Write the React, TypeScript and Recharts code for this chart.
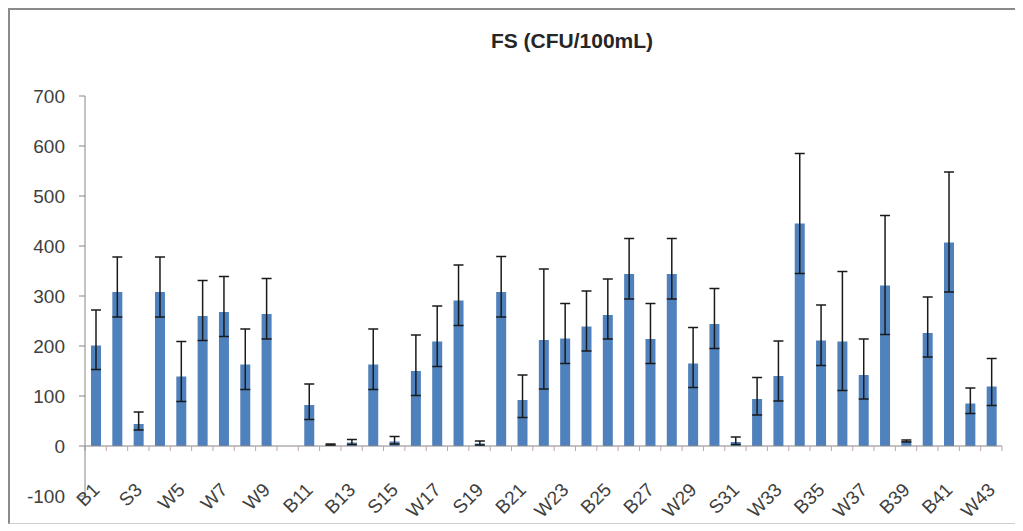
import { BarChart, Bar, XAxis, YAxis, ErrorBar, ReferenceLine } from "recharts"

// sampling sites (only the odd ones are labelled on the axis)
const sites = [
  "B1", "S2", "S3", "B4", "W5", "S6", "W7", "B8", "W9", "S10",
  "B11", "S12", "B13", "W14", "S15", "B16", "W17", "B18", "S19", "W20",
  "B21", "S22", "W23", "S24", "B25", "W26", "B27", "S28", "W29", "B30",
  "S31", "B32", "W33", "S34", "B35", "S36", "W37", "W38", "B39", "S40",
  "B41", "S42", "W43",
]

// mean FS count per site (CFU/100mL)
const fsMean = [
  201, 308, 44, 308, 139, 260, 268, 163, 264, 0,
  82, 3, 7, 163, 9, 150, 209, 291, 5, 308,
  92, 212, 215, 239, 262, 344, 214, 344, 165, 244,
  8, 94, 140, 445, 211, 209, 142, 321, 10, 226,
  407, 85, 119,
]

// upper and lower error bar lengths
const errPlus = [
  71, 70, 24, 70, 70, 71, 71, 71, 71, 0,
  42, 1, 6, 71, 10, 72, 71, 71, 5, 71,
  50, 142, 70, 71, 72, 71, 71, 71, 72, 71,
  10, 43, 70, 140, 71, 140, 72, 140, 2, 72,
  141, 31, 56,
]
const errMinus = [
  48, 50, 12, 50, 50, 49, 49, 50, 50, 0,
  29, 1, 4, 50, 5, 49, 50, 50, 3, 50,
  35, 98, 50, 49, 48, 50, 49, 50, 48, 49,
  5, 32, 50, 100, 50, 98, 48, 98, 2, 48,
  99, 20, 38,
]

const yTicks = [-100, 0, 100, 200, 300, 400, 500, 600, 700]

const data = sites.map((site, i) => ({
  site,
  fs: fsMean[i],
  err: [errMinus[i], errPlus[i]],
}))

const font = "'Liberation Sans', Arial, sans-serif"
const axisGray = "#868686"

function SiteTick({ x, y, payload }: any) {
  return (
    <g transform={`translate(${x + 5},${y - 5})`}>
      <text
        textAnchor="end"
        transform="rotate(-45)"
        fontSize={19}
        fontFamily={font}
        fill="#404040"
      >
        {payload.value}
      </text>
    </g>
  )
}

// zero line with small tick marks between categories, like the excel axis
function ZeroAxis(props: any) {
  const { x1, x2, y1 } = props
  const n = sites.length
  const step = (x2 - x1) / n
  return (
    <g>
      <line x1={x1} x2={x2} y1={y1} y2={y1} stroke={axisGray} strokeWidth={1} />
      {Array.from({ length: n + 1 }, (_, k) => (
        <line
          key={k}
          x1={x1 + step * k}
          x2={x1 + step * k}
          y1={y1}
          y2={y1 + 5}
          stroke="#c9a0b0"
          strokeWidth={1}
        />
      ))}
    </g>
  )
}

export default function App() {
  return (
    <div
      style={{
        position: "relative",
        width: 1011,
        height: 516,
        boxSizing: "border-box",
        borderTop: "2px solid #8a8a8a",
        borderLeft: "2px solid #8a8a8a",
        borderRight: "1px solid #cfcfcf",
        borderBottom: "1px solid #cfcfcf",
        background: "#fff",
        fontFamily: font,
      }}
    >
      <div
        style={{
          position: "absolute",
          left: 412,
          width: 300,
          top: 19,
          textAlign: "center",
          fontSize: 21,
          fontWeight: "bold",
          color: "#262626",
          lineHeight: "24px",
        }}
      >
        FS (CFU/100mL)
      </div>
      <BarChart
        width={1008}
        height={513}
        data={data}
        margin={{ top: 86, right: 16, bottom: 0, left: 0 }}
        barCategoryGap={0}
        style={{ overflow: "visible" }}
      >
        <XAxis
          dataKey="site"
          interval={1}
          axisLine={false}
          tickLine={false}
          tickSize={0}
          tickMargin={0}
          height={27}
          tick={<SiteTick />}
        />
        <YAxis
          domain={[-100, 700]}
          ticks={yTicks}
          allowDataOverflow
          width={75}
          stroke={axisGray}
          tickSize={6}
          tickMargin={14}
          tick={{ fill: "#404040", fontSize: 19, fontFamily: font }}
        />
        <ReferenceLine y={0} shape={(p: any) => <ZeroAxis {...p} />} />
        <Bar dataKey="fs" fill="#4f81bd" barSize={10} isAnimationActive={false}>
          <ErrorBar
            dataKey="err"
            direction="y"
            width={5}
            stroke="#1a1a1a"
            strokeWidth={1.5}
            isAnimationActive={false}
          />
        </Bar>
      </BarChart>
    </div>
  )
}
